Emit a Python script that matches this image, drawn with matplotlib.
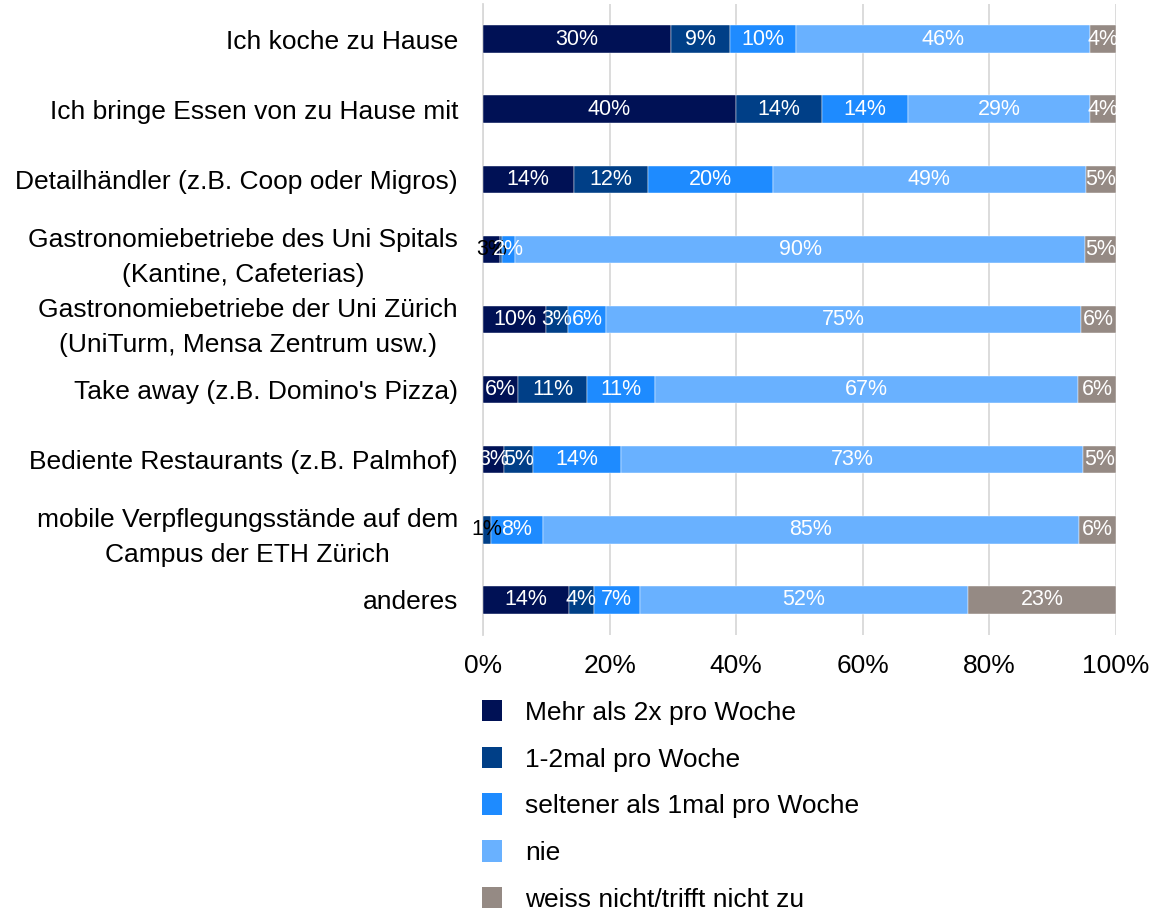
import matplotlib
matplotlib.use('Agg')
import matplotlib.pyplot as plt
import numpy as np
from matplotlib.patches import Patch

plt.rcParams['font.family'] = ['Liberation Sans', 'DejaVu Sans']

# --- Data (percent of respondents) ---
categories = [
    'Ich koche zu Hause',
    'Ich bringe Essen von zu Hause mit',
    'Detailhändler (z.B. Coop oder Migros)',
    'Gastronomiebetriebe des Uni Spitals\n(Kantine, Cafeterias)',
    'Gastronomiebetriebe der Uni Zürich\n(UniTurm, Mensa Zentrum usw.)',
    "Take away (z.B. Domino's Pizza)",
    'Bediente Restaurants (z.B. Palmhof)',
    'mobile Verpflegungsstände auf dem\nCampus der ETH Zürich',
    'anderes',
]
series_names = [
    'Mehr als 2x pro Woche',
    '1-2mal pro Woche',
    'seltener als 1mal pro Woche',
    'nie',
    'weiss nicht/trifft nicht zu',
]
mehr_als_2x = [29.6, 40.0, 14.3, 2.7, 10.0, 5.6, 3.3, 0.0, 13.6]
ein_zwei_mal = [9.4, 13.6, 11.8, 0.3, 3.4, 10.9, 4.6, 1.3, 3.9]
seltener = [10.4, 13.6, 19.6, 2.1, 6.0, 10.7, 13.9, 8.1, 7.3]
nie = [46.4, 28.8, 49.4, 90.0, 75.0, 67.0, 73.0, 84.7, 52.0]
weiss_nicht = [4.1, 4.1, 4.8, 4.9, 5.5, 6.0, 5.2, 5.9, 23.4]
# labels drawn in black instead of white: (row, series)
black_labels = [(3, 0), (7, 1)]

colors = ['#001155', '#003f87', '#1e8bff', '#69b1ff', '#958a84']

data = np.array([mehr_als_2x, ein_zwei_mal, seltener, nie, weiss_nicht])
data = data / data.sum(axis=0) * 100

fig = plt.figure(figsize=(11.59, 9.09), dpi=100)
ax = fig.add_axes([483 / 1159, 1 - 635 / 909, 633 / 1159, 631 / 909])

y = np.arange(len(categories))
left = np.zeros(len(categories))
for i, (name, color) in enumerate(zip(series_names, colors)):
    vals = data[i]
    ax.barh(y, vals, left=left, height=0.39, color=color, label=name,
            edgecolor='white', linewidth=0.3, zorder=3)
    for r in range(len(categories)):
        v = vals[r]
        if v >= 0.5:
            tc = 'black' if (r, i) in black_labels else 'white'
            ax.text(left[r] + v / 2, y[r], f'{v:.0f}%', ha='center', va='center',
                    color=tc, fontsize=15.5, zorder=4)
    left += vals

ax.set_xlim(0, 100)
ax.set_ylim(len(categories) - 0.5, -0.5)
ax.set_xticks(np.arange(0, 101, 20))
ax.set_xticklabels([f'{t}%' for t in range(0, 101, 20)], fontsize=19)
ax.set_yticks(y)
ax.set_yticklabels(categories, fontsize=19, linespacing=1.58)
for lbl in ax.get_yticklabels():
    lbl.set_multialignment('center')
ax.tick_params(axis='both', length=0)
ax.tick_params(axis='y', pad=18)
ax.tick_params(axis='x', pad=14)
ax.grid(axis='x', color='#d9d9d9', linewidth=1.3, zorder=0)
for s in ['top', 'right', 'bottom']:
    ax.spines[s].set_visible(False)
ax.spines['left'].set_color('#d9d9d9')
ax.spines['left'].set_linewidth(1.3)

handles = [Patch(facecolor=c, label=n) for c, n in zip(colors, series_names)]
fig.legend(handles=handles, loc='upper left',
           bbox_to_anchor=(482 / 1159, 1 - 700 / 909), frameon=False,
           fontsize=19, handlelength=0.74, handleheight=0.87,
           handletextpad=0.9, labelspacing=0.83, borderaxespad=0,
           borderpad=0)

fig.savefig('out.png', dpi=100)
